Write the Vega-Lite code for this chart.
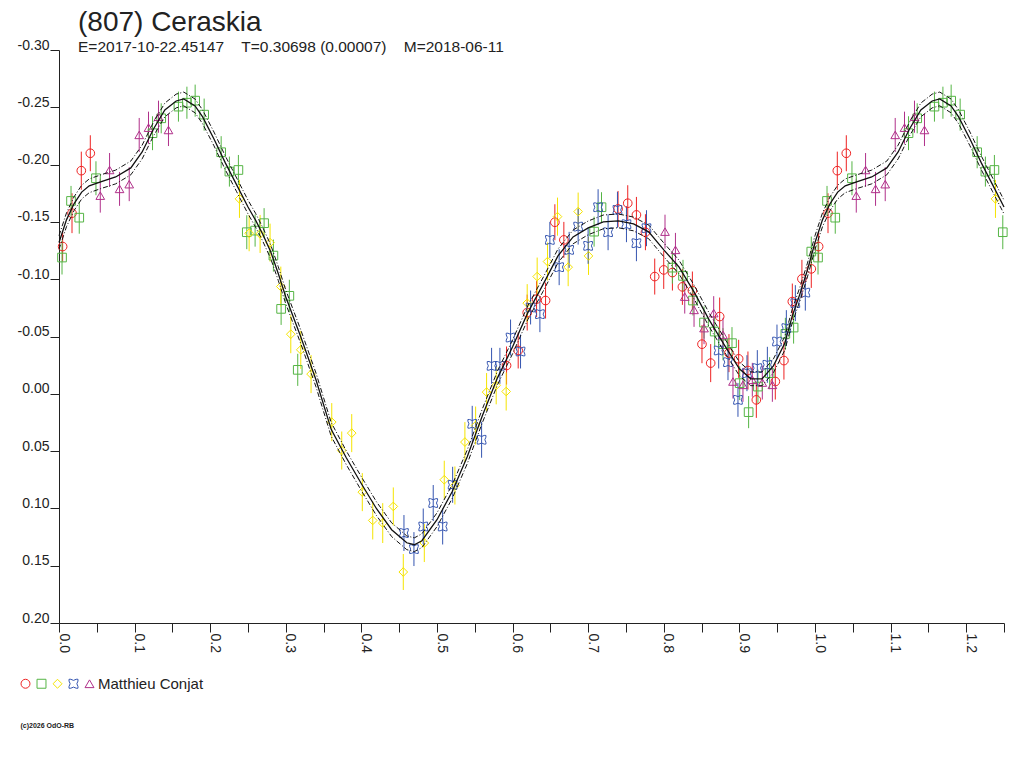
{
  "$schema": "https://vega.github.io/schema/vega-lite/v6.json",
  "width": 945,
  "height": 573,
  "autosize": {"type": "none"},
  "padding": {"left": 59, "top": 50, "right": 20, "bottom": 145},
  "background": "white",
  "title": {
    "text": "(807) Ceraskia",
    "subtitle": "E=2017-10-22.45147\u00a0\u00a0\u00a0\u00a0T=0.30698 (0.00007)\u00a0\u00a0\u00a0\u00a0M=2018-06-11",
    "anchor": "start",
    "frame": "group",
    "dx": 19,
    "offset": -17,
    "font": "Liberation Sans",
    "fontSize": 28,
    "fontWeight": "normal",
    "color": "#222",
    "subtitleFont": "Liberation Sans",
    "subtitleFontSize": 15.5,
    "subtitleColor": "#222",
    "subtitlePadding": 3
  },
  "datasets": {
    "obs": [
      {"s": "a", "phase": 0.0048, "mag": -0.1285, "err": 0.0131},
      {"s": "a", "phase": 0.0172, "mag": -0.1576, "err": 0.0174},
      {"s": "a", "phase": 0.0295, "mag": -0.1947, "err": 0.0166},
      {"s": "a", "phase": 0.0414, "mag": -0.2099, "err": 0.0157},
      {"s": "a", "phase": 0.5920, "mag": -0.0247, "err": 0.0166},
      {"s": "a", "phase": 0.6074, "mag": -0.0378, "err": 0.0157},
      {"s": "a", "phase": 0.6193, "mag": -0.0709, "err": 0.0157},
      {"s": "a", "phase": 0.6317, "mag": -0.0826, "err": 0.0157},
      {"s": "a", "phase": 0.6436, "mag": -0.0814, "err": 0.0157},
      {"s": "a", "phase": 0.6559, "mag": -0.1497, "err": 0.0157},
      {"s": "a", "phase": 0.6678, "mag": -0.1343, "err": 0.0157},
      {"s": "a", "phase": 0.7395, "mag": -0.1613, "err": 0.0157},
      {"s": "a", "phase": 0.7523, "mag": -0.1663, "err": 0.0157},
      {"s": "a", "phase": 0.7638, "mag": -0.1561, "err": 0.0157},
      {"s": "a", "phase": 0.7757, "mag": -0.1410, "err": 0.0157},
      {"s": "a", "phase": 0.7880, "mag": -0.1023, "err": 0.0157},
      {"s": "a", "phase": 0.7999, "mag": -0.1081, "err": 0.0166},
      {"s": "a", "phase": 0.8114, "mag": -0.1058, "err": 0.0157},
      {"s": "a", "phase": 0.8246, "mag": -0.0933, "err": 0.0157},
      {"s": "a", "phase": 0.8378, "mag": -0.0901, "err": 0.0166},
      {"s": "a", "phase": 0.8739, "mag": -0.0674, "err": 0.0166},
      {"s": "a", "phase": 0.8505, "mag": -0.0433, "err": 0.0166},
      {"s": "a", "phase": 0.8620, "mag": -0.0268, "err": 0.0166},
      {"s": "a", "phase": 0.8862, "mag": -0.0355, "err": 0.0166},
      {"s": "a", "phase": 0.8990, "mag": -0.0305, "err": 0.0166},
      {"s": "a", "phase": 0.9113, "mag": -0.0203, "err": 0.0166},
      {"s": "a", "phase": 0.9224, "mag": 0.0053, "err": 0.0157},
      {"s": "a", "phase": 0.9475, "mag": -0.0107, "err": 0.0157},
      {"s": "a", "phase": 0.9589, "mag": -0.0290, "err": 0.0166},
      {"s": "a", "phase": 0.9700, "mag": -0.0805, "err": 0.0157},
      {"s": "a", "phase": 0.9827, "mag": -0.1003, "err": 0.0166},
      {"s": "a", "phase": 0.9951, "mag": -0.1090, "err": 0.0166},
      {"s": "a", "phase": 1.0048, "mag": -0.1285, "err": 0.0131},
      {"s": "a", "phase": 1.0172, "mag": -0.1576, "err": 0.0174},
      {"s": "a", "phase": 1.0295, "mag": -0.1947, "err": 0.0166},
      {"s": "a", "phase": 1.0414, "mag": -0.2099, "err": 0.0157},

      {"s": "b", "phase": 0.0040, "mag": -0.1189, "err": 0.0148},
      {"s": "b", "phase": 0.0159, "mag": -0.1683, "err": 0.0131},
      {"s": "b", "phase": 0.0268, "mag": -0.1537, "err": 0.0140},
      {"s": "b", "phase": 0.0489, "mag": -0.1881, "err": 0.0148},
      {"s": "b", "phase": 0.1237, "mag": -0.2274, "err": 0.0148},
      {"s": "b", "phase": 0.1352, "mag": -0.2404, "err": 0.0131},
      {"s": "b", "phase": 0.1580, "mag": -0.2506, "err": 0.0131},
      {"s": "b", "phase": 0.1692, "mag": -0.2540, "err": 0.0140},
      {"s": "b", "phase": 0.1801, "mag": -0.2558, "err": 0.0140},
      {"s": "b", "phase": 0.1920, "mag": -0.2436, "err": 0.0140},
      {"s": "b", "phase": 0.2145, "mag": -0.2108, "err": 0.0140},
      {"s": "b", "phase": 0.2254, "mag": -0.1939, "err": 0.0131},
      {"s": "b", "phase": 0.2373, "mag": -0.1953, "err": 0.0131},
      {"s": "b", "phase": 0.2484, "mag": -0.1410, "err": 0.0148},
      {"s": "b", "phase": 0.2594, "mag": -0.1424, "err": 0.0140},
      {"s": "b", "phase": 0.2713, "mag": -0.1489, "err": 0.0131},
      {"s": "b", "phase": 0.2836, "mag": -0.1206, "err": 0.0140},
      {"s": "b", "phase": 0.3047, "mag": -0.0855, "err": 0.0140},
      {"s": "b", "phase": 0.2938, "mag": -0.0741, "err": 0.0140},
      {"s": "b", "phase": 0.3158, "mag": -0.0209, "err": 0.0140},
      {"s": "b", "phase": 0.7078, "mag": -0.1415, "err": 0.0131},
      {"s": "b", "phase": 0.7176, "mag": -0.1628, "err": 0.0131},
      {"s": "b", "phase": 0.8114, "mag": -0.1101, "err": 0.0140},
      {"s": "b", "phase": 0.8254, "mag": -0.1029, "err": 0.0140},
      {"s": "b", "phase": 0.8386, "mag": -0.0814, "err": 0.0131},
      {"s": "b", "phase": 0.8532, "mag": -0.0622, "err": 0.0140},
      {"s": "b", "phase": 0.8673, "mag": -0.0543, "err": 0.0131},
      {"s": "b", "phase": 0.8783, "mag": -0.0433, "err": 0.0140},
      {"s": "b", "phase": 0.8902, "mag": -0.0442, "err": 0.0140},
      {"s": "b", "phase": 0.9004, "mag": -0.0093, "err": 0.0148},
      {"s": "b", "phase": 0.9122, "mag": 0.0160, "err": 0.0140},
      {"s": "b", "phase": 0.9245, "mag": -0.0063, "err": 0.0148},
      {"s": "b", "phase": 0.9400, "mag": -0.0180, "err": 0.0140},
      {"s": "b", "phase": 0.9608, "mag": -0.0523, "err": 0.0140},
      {"s": "b", "phase": 0.9717, "mag": -0.0578, "err": 0.0140},
      {"s": "b", "phase": 0.9951, "mag": -0.1241, "err": 0.0131},
      {"s": "b", "phase": 1.0040, "mag": -0.1189, "err": 0.0148},
      {"s": "b", "phase": 1.0159, "mag": -0.1683, "err": 0.0131},
      {"s": "b", "phase": 1.0268, "mag": -0.1537, "err": 0.0140},
      {"s": "b", "phase": 1.0489, "mag": -0.1881, "err": 0.0148},
      {"s": "b", "phase": 1.1237, "mag": -0.2274, "err": 0.0148},
      {"s": "b", "phase": 1.1352, "mag": -0.2404, "err": 0.0131},
      {"s": "b", "phase": 1.1580, "mag": -0.2506, "err": 0.0131},
      {"s": "b", "phase": 1.1692, "mag": -0.2540, "err": 0.0140},
      {"s": "b", "phase": 1.1801, "mag": -0.2558, "err": 0.0140},
      {"s": "b", "phase": 1.1920, "mag": -0.2436, "err": 0.0140},
      {"s": "b", "phase": 1.2145, "mag": -0.2108, "err": 0.0140},
      {"s": "b", "phase": 1.2254, "mag": -0.1939, "err": 0.0131},
      {"s": "b", "phase": 1.2373, "mag": -0.1953, "err": 0.0131},
      {"s": "b", "phase": 1.2484, "mag": -0.1410, "err": 0.0148},

      {"s": "c", "phase": 0.2387, "mag": -0.1701, "err": 0.0166},
      {"s": "c", "phase": 0.2515, "mag": -0.1401, "err": 0.0157},
      {"s": "c", "phase": 0.2660, "mag": -0.1395, "err": 0.0166},
      {"s": "c", "phase": 0.2792, "mag": -0.1319, "err": 0.0166},
      {"s": "c", "phase": 0.2934, "mag": -0.0936, "err": 0.0174},
      {"s": "c", "phase": 0.3066, "mag": -0.0520, "err": 0.0166},
      {"s": "c", "phase": 0.3198, "mag": -0.0384, "err": 0.0166},
      {"s": "c", "phase": 0.3334, "mag": -0.0172, "err": 0.0166},
      {"s": "c", "phase": 0.3608, "mag": 0.0247, "err": 0.0166},
      {"s": "c", "phase": 0.3872, "mag": 0.0343, "err": 0.0166},
      {"s": "c", "phase": 0.3740, "mag": 0.0495, "err": 0.0166},
      {"s": "c", "phase": 0.4012, "mag": 0.0858, "err": 0.0166},
      {"s": "c", "phase": 0.4150, "mag": 0.1105, "err": 0.0166},
      {"s": "c", "phase": 0.4282, "mag": 0.1128, "err": 0.0174},
      {"s": "c", "phase": 0.4422, "mag": 0.0983, "err": 0.0166},
      {"s": "c", "phase": 0.4554, "mag": 0.1555, "err": 0.0157},
      {"s": "c", "phase": 0.4832, "mag": 0.1302, "err": 0.0166},
      {"s": "c", "phase": 0.5096, "mag": 0.0750, "err": 0.0166},
      {"s": "c", "phase": 0.5237, "mag": 0.0800, "err": 0.0166},
      {"s": "c", "phase": 0.5369, "mag": 0.0421, "err": 0.0174},
      {"s": "c", "phase": 0.5511, "mag": 0.0277, "err": 0.0166},
      {"s": "c", "phase": 0.5656, "mag": -0.0015, "err": 0.0166},
      {"s": "c", "phase": 0.5783, "mag": -0.0074, "err": 0.0166},
      {"s": "c", "phase": 0.5915, "mag": -0.0020, "err": 0.0166},
      {"s": "c", "phase": 0.6193, "mag": -0.0791, "err": 0.0166},
      {"s": "c", "phase": 0.6325, "mag": -0.1023, "err": 0.0166},
      {"s": "c", "phase": 0.6462, "mag": -0.1154, "err": 0.0166},
      {"s": "c", "phase": 0.6594, "mag": -0.1546, "err": 0.0166},
      {"s": "c", "phase": 0.6735, "mag": -0.1105, "err": 0.0166},
      {"s": "c", "phase": 0.6867, "mag": -0.1590, "err": 0.0166},
      {"s": "c", "phase": 0.7004, "mag": -0.1203, "err": 0.0166},
      {"s": "c", "phase": 1.2387, "mag": -0.1701, "err": 0.0166},

      {"s": "d", "phase": 0.4563, "mag": 0.1215, "err": 0.0157},
      {"s": "d", "phase": 0.4695, "mag": 0.1355, "err": 0.0148},
      {"s": "d", "phase": 0.4818, "mag": 0.1158, "err": 0.0157},
      {"s": "d", "phase": 0.4950, "mag": 0.0953, "err": 0.0157},
      {"s": "d", "phase": 0.5075, "mag": 0.1158, "err": 0.0157},
      {"s": "d", "phase": 0.5207, "mag": 0.0794, "err": 0.0157},
      {"s": "d", "phase": 0.5466, "mag": 0.0262, "err": 0.0157},
      {"s": "d", "phase": 0.5590, "mag": 0.0401, "err": 0.0157},
      {"s": "d", "phase": 0.5722, "mag": -0.0244, "err": 0.0157},
      {"s": "d", "phase": 0.5832, "mag": -0.0244, "err": 0.0157},
      {"s": "d", "phase": 0.5973, "mag": -0.0491, "err": 0.0157},
      {"s": "d", "phase": 0.6105, "mag": -0.0369, "err": 0.0148},
      {"s": "d", "phase": 0.6238, "mag": -0.0753, "err": 0.0148},
      {"s": "d", "phase": 0.6361, "mag": -0.0695, "err": 0.0157},
      {"s": "d", "phase": 0.6493, "mag": -0.1343, "err": 0.0157},
      {"s": "d", "phase": 0.6616, "mag": -0.1105, "err": 0.0157},
      {"s": "d", "phase": 0.6748, "mag": -0.1256, "err": 0.0157},
      {"s": "d", "phase": 0.6867, "mag": -0.1459, "err": 0.0157},
      {"s": "d", "phase": 0.6999, "mag": -0.1291, "err": 0.0157},
      {"s": "d", "phase": 0.7131, "mag": -0.1628, "err": 0.0157},
      {"s": "d", "phase": 0.7263, "mag": -0.1410, "err": 0.0157},
      {"s": "d", "phase": 0.7387, "mag": -0.1605, "err": 0.0157},
      {"s": "d", "phase": 0.7506, "mag": -0.1480, "err": 0.0157},
      {"s": "d", "phase": 0.7638, "mag": -0.1314, "err": 0.0157},
      {"s": "d", "phase": 0.7771, "mag": -0.1445, "err": 0.0157},
      {"s": "d", "phase": 0.8726, "mag": -0.0378, "err": 0.0157},
      {"s": "d", "phase": 0.8849, "mag": -0.0276, "err": 0.0157},
      {"s": "d", "phase": 0.8981, "mag": 0.0053, "err": 0.0148},
      {"s": "d", "phase": 0.9100, "mag": -0.0180, "err": 0.0157},
      {"s": "d", "phase": 0.9237, "mag": -0.0224, "err": 0.0157},
      {"s": "d", "phase": 0.9370, "mag": -0.0253, "err": 0.0157},
      {"s": "d", "phase": 0.9497, "mag": -0.0456, "err": 0.0148},
      {"s": "d", "phase": 0.9621, "mag": -0.0573, "err": 0.0157},
      {"s": "d", "phase": 0.9740, "mag": -0.0791, "err": 0.0157},
      {"s": "d", "phase": 0.9872, "mag": -0.0883, "err": 0.0157},

      {"s": "e", "phase": 0.0546, "mag": -0.1729, "err": 0.0148},
      {"s": "e", "phase": 0.0669, "mag": -0.1953, "err": 0.0148},
      {"s": "e", "phase": 0.0801, "mag": -0.1788, "err": 0.0148},
      {"s": "e", "phase": 0.0929, "mag": -0.1829, "err": 0.0148},
      {"s": "e", "phase": 0.1061, "mag": -0.2259, "err": 0.0148},
      {"s": "e", "phase": 0.1184, "mag": -0.2322, "err": 0.0140},
      {"s": "e", "phase": 0.1316, "mag": -0.2418, "err": 0.0140},
      {"s": "e", "phase": 0.1448, "mag": -0.2302, "err": 0.0140},
      {"s": "e", "phase": 0.8016, "mag": -0.1415, "err": 0.0148},
      {"s": "e", "phase": 0.8154, "mag": -0.1256, "err": 0.0148},
      {"s": "e", "phase": 0.8277, "mag": -0.0848, "err": 0.0148},
      {"s": "e", "phase": 0.8400, "mag": -0.0732, "err": 0.0148},
      {"s": "e", "phase": 0.8660, "mag": -0.0704, "err": 0.0148},
      {"s": "e", "phase": 0.8532, "mag": -0.0573, "err": 0.0140},
      {"s": "e", "phase": 0.8783, "mag": -0.0514, "err": 0.0148},
      {"s": "e", "phase": 0.8915, "mag": -0.0107, "err": 0.0148},
      {"s": "e", "phase": 0.9047, "mag": -0.0078, "err": 0.0148},
      {"s": "e", "phase": 0.9171, "mag": -0.0122, "err": 0.0148},
      {"s": "e", "phase": 0.9303, "mag": -0.0098, "err": 0.0148},
      {"s": "e", "phase": 0.9436, "mag": -0.0078, "err": 0.0148},
      {"s": "e", "phase": 1.0546, "mag": -0.1729, "err": 0.0148},
      {"s": "e", "phase": 1.0669, "mag": -0.1953, "err": 0.0148},
      {"s": "e", "phase": 1.0801, "mag": -0.1788, "err": 0.0148},
      {"s": "e", "phase": 1.0929, "mag": -0.1829, "err": 0.0148},
      {"s": "e", "phase": 1.1061, "mag": -0.2259, "err": 0.0148},
      {"s": "e", "phase": 1.1184, "mag": -0.2322, "err": 0.0140},
      {"s": "e", "phase": 1.1316, "mag": -0.2418, "err": 0.0140},
      {"s": "e", "phase": 1.1448, "mag": -0.2302, "err": 0.0140}
    ],
    "fit": [
      {"phase": 0.000, "mag": -0.1320, "lo": -0.1380, "hi": -0.1260},
      {"phase": 0.010, "mag": -0.1520, "lo": -0.1580, "hi": -0.1460},
      {"phase": 0.020, "mag": -0.1660, "lo": -0.1720, "hi": -0.1600},
      {"phase": 0.030, "mag": -0.1760, "lo": -0.1820, "hi": -0.1700},
      {"phase": 0.040, "mag": -0.1815, "lo": -0.1875, "hi": -0.1755},
      {"phase": 0.055, "mag": -0.1850, "lo": -0.1910, "hi": -0.1790},
      {"phase": 0.075, "mag": -0.1892, "lo": -0.1952, "hi": -0.1832},
      {"phase": 0.095, "mag": -0.1971, "lo": -0.2031, "hi": -0.1911},
      {"phase": 0.110, "mag": -0.2110, "lo": -0.2170, "hi": -0.2050},
      {"phase": 0.125, "mag": -0.2311, "lo": -0.2371, "hi": -0.2251},
      {"phase": 0.140, "mag": -0.2477, "lo": -0.2537, "hi": -0.2417},
      {"phase": 0.155, "mag": -0.2555, "lo": -0.2615, "hi": -0.2495},
      {"phase": 0.165, "mag": -0.2573, "lo": -0.2633, "hi": -0.2513},
      {"phase": 0.180, "mag": -0.2512, "lo": -0.2572, "hi": -0.2452},
      {"phase": 0.190, "mag": -0.2416, "lo": -0.2476, "hi": -0.2356},
      {"phase": 0.205, "mag": -0.2224, "lo": -0.2284, "hi": -0.2164},
      {"phase": 0.220, "mag": -0.2015, "lo": -0.2075, "hi": -0.1955},
      {"phase": 0.235, "mag": -0.1823, "lo": -0.1883, "hi": -0.1763},
      {"phase": 0.250, "mag": -0.1630, "lo": -0.1690, "hi": -0.1570},
      {"phase": 0.260, "mag": -0.1515, "lo": -0.1575, "hi": -0.1455},
      {"phase": 0.270, "mag": -0.1385, "lo": -0.1445, "hi": -0.1325},
      {"phase": 0.280, "mag": -0.1240, "lo": -0.1300, "hi": -0.1180},
      {"phase": 0.290, "mag": -0.1050, "lo": -0.1110, "hi": -0.0990},
      {"phase": 0.300, "mag": -0.0845, "lo": -0.0905, "hi": -0.0785},
      {"phase": 0.320, "mag": -0.0494, "lo": -0.0554, "hi": -0.0434},
      {"phase": 0.340, "mag": -0.0120, "lo": -0.0180, "hi": -0.0060},
      {"phase": 0.360, "mag": 0.0310, "lo": 0.0250, "hi": 0.0370},
      {"phase": 0.380, "mag": 0.0558, "lo": 0.0498, "hi": 0.0618},
      {"phase": 0.400, "mag": 0.0785, "lo": 0.0725, "hi": 0.0845},
      {"phase": 0.420, "mag": 0.1003, "lo": 0.0943, "hi": 0.1063},
      {"phase": 0.440, "mag": 0.1186, "lo": 0.1126, "hi": 0.1246},
      {"phase": 0.460, "mag": 0.1300, "lo": 0.1240, "hi": 0.1360},
      {"phase": 0.470, "mag": 0.1317, "lo": 0.1257, "hi": 0.1377},
      {"phase": 0.480, "mag": 0.1282, "lo": 0.1222, "hi": 0.1342},
      {"phase": 0.500, "mag": 0.1099, "lo": 0.1039, "hi": 0.1159},
      {"phase": 0.520, "mag": 0.0855, "lo": 0.0795, "hi": 0.0915},
      {"phase": 0.540, "mag": 0.0550, "lo": 0.0490, "hi": 0.0610},
      {"phase": 0.560, "mag": 0.0192, "lo": 0.0132, "hi": 0.0252},
      {"phase": 0.580, "mag": -0.0139, "lo": -0.0199, "hi": -0.0079},
      {"phase": 0.600, "mag": -0.0410, "lo": -0.0470, "hi": -0.0350},
      {"phase": 0.620, "mag": -0.0706, "lo": -0.0766, "hi": -0.0646},
      {"phase": 0.640, "mag": -0.0950, "lo": -0.1010, "hi": -0.0890},
      {"phase": 0.660, "mag": -0.1203, "lo": -0.1263, "hi": -0.1143},
      {"phase": 0.680, "mag": -0.1369, "lo": -0.1429, "hi": -0.1309},
      {"phase": 0.700, "mag": -0.1448, "lo": -0.1508, "hi": -0.1388},
      {"phase": 0.720, "mag": -0.1500, "lo": -0.1560, "hi": -0.1440},
      {"phase": 0.740, "mag": -0.1509, "lo": -0.1569, "hi": -0.1449},
      {"phase": 0.760, "mag": -0.1482, "lo": -0.1542, "hi": -0.1422},
      {"phase": 0.780, "mag": -0.1413, "lo": -0.1473, "hi": -0.1353},
      {"phase": 0.800, "mag": -0.1256, "lo": -0.1316, "hi": -0.1196},
      {"phase": 0.820, "mag": -0.1107, "lo": -0.1167, "hi": -0.1047},
      {"phase": 0.840, "mag": -0.0889, "lo": -0.0949, "hi": -0.0829},
      {"phase": 0.860, "mag": -0.0645, "lo": -0.0705, "hi": -0.0585},
      {"phase": 0.880, "mag": -0.0427, "lo": -0.0487, "hi": -0.0367},
      {"phase": 0.900, "mag": -0.0218, "lo": -0.0278, "hi": -0.0158},
      {"phase": 0.915, "mag": -0.0131, "lo": -0.0191, "hi": -0.0071},
      {"phase": 0.930, "mag": -0.0131, "lo": -0.0191, "hi": -0.0071},
      {"phase": 0.945, "mag": -0.0244, "lo": -0.0304, "hi": -0.0184},
      {"phase": 0.960, "mag": -0.0440, "lo": -0.0500, "hi": -0.0380},
      {"phase": 0.970, "mag": -0.0680, "lo": -0.0740, "hi": -0.0620},
      {"phase": 0.980, "mag": -0.0870, "lo": -0.0930, "hi": -0.0810},
      {"phase": 0.990, "mag": -0.1080, "lo": -0.1140, "hi": -0.1020},
      {"phase": 1.000, "mag": -0.1320, "lo": -0.1380, "hi": -0.1260},
      {"phase": 1.010, "mag": -0.1520, "lo": -0.1580, "hi": -0.1460},
      {"phase": 1.020, "mag": -0.1660, "lo": -0.1720, "hi": -0.1600},
      {"phase": 1.030, "mag": -0.1760, "lo": -0.1820, "hi": -0.1700},
      {"phase": 1.040, "mag": -0.1815, "lo": -0.1875, "hi": -0.1755},
      {"phase": 1.055, "mag": -0.1850, "lo": -0.1910, "hi": -0.1790},
      {"phase": 1.075, "mag": -0.1892, "lo": -0.1952, "hi": -0.1832},
      {"phase": 1.095, "mag": -0.1971, "lo": -0.2031, "hi": -0.1911},
      {"phase": 1.110, "mag": -0.2110, "lo": -0.2170, "hi": -0.2050},
      {"phase": 1.125, "mag": -0.2311, "lo": -0.2371, "hi": -0.2251},
      {"phase": 1.140, "mag": -0.2477, "lo": -0.2537, "hi": -0.2417},
      {"phase": 1.155, "mag": -0.2555, "lo": -0.2615, "hi": -0.2495},
      {"phase": 1.165, "mag": -0.2573, "lo": -0.2633, "hi": -0.2513},
      {"phase": 1.180, "mag": -0.2512, "lo": -0.2572, "hi": -0.2452},
      {"phase": 1.190, "mag": -0.2416, "lo": -0.2476, "hi": -0.2356},
      {"phase": 1.205, "mag": -0.2224, "lo": -0.2284, "hi": -0.2164},
      {"phase": 1.220, "mag": -0.2015, "lo": -0.2075, "hi": -0.1955},
      {"phase": 1.235, "mag": -0.1823, "lo": -0.1883, "hi": -0.1763},
      {"phase": 1.250, "mag": -0.1630, "lo": -0.1690, "hi": -0.1570}
    ]
  },
  "encoding": {
    "x": {
      "field": "phase",
      "type": "quantitative",
      "scale": {"domain": [0, 1.25], "nice": false, "zero": false},
      "axis": {
        "values": [0, 0.05, 0.1, 0.15, 0.2, 0.25, 0.3, 0.35, 0.4, 0.45, 0.5, 0.55, 0.6, 0.65, 0.7, 0.75, 0.8, 0.85, 0.9, 0.95, 1, 1.05, 1.1, 1.15, 1.2, 1.25],
        "labelExpr": "round(datum.value * 20) % 2 == 0 ? format(datum.value, '.1f') : ''",
        "labelAngle": 90,
        "labelAlign": "left",
        "labelBaseline": "alphabetic",
        "labelPadding": 1,
        "labelFlush": false,
        "labelOverlap": false,
        "title": "(c)2026 OdO-RB",
        "titleFontSize": 7,
        "titleFontWeight": "bold",
        "titleColor": "#222",
        "titleAnchor": "start",
        "titleAlign": "left",
        "titleBaseline": "alphabetic",
        "titleAngle": 0,
        "titleX": -39,
        "titleY": 104
      }
    },
    "y": {
      "field": "mag",
      "type": "quantitative",
      "scale": {"domain": [-0.3, 0.2], "nice": false, "zero": false, "reverse": true},
      "axis": {
        "values": [-0.3, -0.25, -0.2, -0.15, -0.1, -0.05, 0, 0.05, 0.1, 0.15, 0.2],
        "labelExpr": "replace(format(datum.value, '.2f'), '−', '-')",
        "labelBaseline": "alphabetic",
        "labelOffset": -1,
        "labelPadding": 1,
        "labelFlush": false,
        "labelOverlap": false,
        "title": null
      }
    }
  },
  "layer": [
    {
      "data": {"name": "obs"},
      "mark": {"type": "errorbar", "thickness": 1},
      "encoding": {
        "yError": {"field": "err"},
        "stroke": {
          "field": "s",
          "type": "nominal",
          "scale": {"domain": ["e", "d", "c", "b", "a"], "range": ["#b0308a", "#3555b0", "#f5e400", "#55b545", "#ee2222"]},
          "legend": null
        }
      }
    },
    {
      "data": {"name": "obs"},
      "mark": {"type": "point", "filled": false, "strokeWidth": 1, "opacity": 1, "size": 75},
      "encoding": {
        "color": {
          "field": "s",
          "type": "nominal",
          "scale": {"domain": ["a", "b", "c", "d", "e"], "range": ["#ee2222", "#55b545", "#f5e400", "#3555b0", "#b0308a"]},
          "legend": {
            "orient": "none",
            "legendX": -41,
            "legendY": 626,
            "direction": "horizontal",
            "title": null,
            "symbolSize": 80,
            "symbolStrokeWidth": 1,
            "labelFont": "Liberation Sans",
            "labelFontSize": 15,
            "labelColor": "#222",
            "labelOffset": 1,
            "columnPadding": -6,
            "labelExpr": "datum.value == 'e' ? '\u00a0\u00a0Matthieu Conjat' : ''"
          }
        },
        "shape": {
          "field": "s",
          "type": "nominal",
          "scale": {"domain": ["a", "b", "c", "d", "e"], "range": ["circle", "square", "diamond", "M-1,-1L-0.6,-1Q0,-0.5 0.6,-1L1,-1L1,-0.6Q0.5,0 1,0.6L1,1L0.6,1Q0,0.5 -0.6,1L-1,1L-1,0.6Q-0.5,0 -1,-0.6Z", "triangle-up"]},
          "legend": {
            "orient": "none",
            "legendX": -41,
            "legendY": 626,
            "direction": "horizontal",
            "title": null,
            "symbolSize": 80,
            "symbolStrokeWidth": 1,
            "labelFont": "Liberation Sans",
            "labelFontSize": 15,
            "labelColor": "#222",
            "labelOffset": 1,
            "columnPadding": -6,
            "labelExpr": "datum.value == 'e' ? '\u00a0\u00a0Matthieu Conjat' : ''"
          }
        }
      }
    },
    {
      "data": {"name": "fit"},
      "mark": {"type": "line", "color": "#111", "strokeWidth": 1.3},
      "encoding": {}
    },
    {
      "data": {"name": "fit"},
      "mark": {"type": "line", "color": "#111", "strokeWidth": 1, "strokeDash": [5, 2, 1, 2]},
      "encoding": {"y": {"field": "lo", "type": "quantitative"}}
    },
    {
      "data": {"name": "fit"},
      "mark": {"type": "line", "color": "#111", "strokeWidth": 1, "strokeDash": [5, 2, 1, 2]},
      "encoding": {"y": {"field": "hi", "type": "quantitative"}}
    }
  ],
  "config": {
    "view": {"stroke": null},
    "font": "Liberation Sans",
    "axis": {
      "grid": false,
      "domainColor": "#222",
      "tickColor": "#222",
      "labelColor": "#222",
      "labelFont": "Liberation Sans",
      "labelFontSize": 14,
      "tickSize": 9,
      "domainWidth": 1,
      "tickWidth": 1
    }
  }
}
